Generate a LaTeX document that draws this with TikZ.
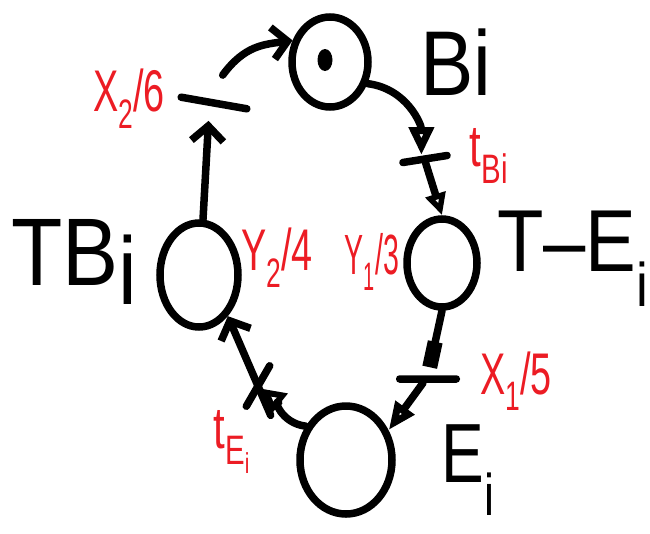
\documentclass[tikz,border=0pt]{standalone}
\usepackage{fontspec}
\setmainfont{Liberation Sans}
\usetikzlibrary{arrows.meta,shapes.geometric}
\definecolor{hred}{RGB}{236,28,36}
\begin{document}
\begin{tikzpicture}[x=1pt,y=-1pt,
  place/.style={draw,ellipse,line width=7.5pt,inner sep=0pt},
  bar/.style={fill=black,rectangle,minimum height=7.5pt,inner sep=0pt,rounded corners=3.5pt},
  arc/.style={line width=7.5pt,line cap=round,line join=round},
  opentip/.style={-{Triangle[open,length=28pt,width=24pt]}},
  barb/.style={-{Straight Barb[length=15pt,width=32pt]}},
  lab/.style={inner sep=0pt,font=\fontsize{80}{80}\selectfont},
  rlab/.style={inner sep=0pt,text=hred,font=\fontsize{42}{42}\selectfont}]
\useasboundingbox (0,0) rectangle (650,533);
% places
\node[place,minimum width=76pt,minimum height=90pt] (Bi) at (330,62) {};
\node[fill,ellipse,minimum width=15pt,minimum height=22pt,inner sep=0pt] (tok) at (325,60) {};
\node[place,minimum width=70pt,minimum height=88pt] (TEi) at (442,263) {};
\node[place,minimum width=92pt,minimum height=108pt] (Ei) at (346,460) {};
\node[place,minimum width=78pt,minimum height=104pt] (TBi) at (199,275) {};
% transitions
\node[bar,minimum width=52pt,rotate=9] (tBi) at (425,159) {};
\node[bar,minimum width=64pt] (x15) at (428,379) {};
\node[bar,minimum width=54pt,rotate=60] (tEi) at (258,386) {};
\node[bar,minimum width=74pt,rotate=-10] (x26) at (214,103) {};
% black labels
\node[lab] (BiL) at (456,62) {\scalebox{1}[1.15]{Bi}};
\node[lab] (TEiL) at (573,259) {\scalebox{0.95}[1.1]{T\textendash E\textsubscript{i}}};
\node[lab] (EiL) at (468,470) {\scalebox{0.8}[1.05]{E\textsubscript{i}}};
\node[lab] (TBiL) at (74,262) {\scalebox{1.05}[1.2]{TB\raisebox{-0.2em}{i}}};
% red labels
\node[rlab] (x26L) at (129,99) {\scalebox{0.9}[1.4]{X\textsubscript{2}/6}};
\node[rlab] (y24L) at (277,258) {\scalebox{0.9}[1.4]{Y\textsubscript{2}/4}};
\node[rlab] (y13L) at (372,262) {\scalebox{0.68}[1.35]{Y\textsubscript{1}/3}};
\node[rlab] (x15L) at (516,381) {\scalebox{0.9}[1.4]{X\textsubscript{1}/5}};
\node[rlab] (tBiL) at (489,156) {\scalebox{1}[1.4]{t\textsubscript{Bi}}};
\node[rlab] (tEiL) at (232,442) {\scalebox{1}[1.4]{t\textsubscript{E\textsubscript{i}}}};
% arcs
\draw[arc,barb] ([xshift=8pt,yshift=24pt]x26.north) .. controls +(22,-30) and +(-28,4) .. (Bi.150);
\draw[arc,opentip] (Bi.-30) .. controls +(40,5) and +(0,-30) .. ([xshift=-3pt]tBi.north);
\draw[arc,-{Triangle[open,length=22pt,width=20pt]}] (tBi.south) -- (TEi.north);
\draw[arc,-{Rectangle[length=26pt,width=15pt]},shorten >=8pt] (TEi.south) -- (x15.north);
\draw[arc,-{Triangle[open,length=28pt,width=22pt]}] ([xshift=-5pt]x15.south) -- (Ei.35);
\draw[arc,-{Triangle[open,length=24pt,width=24pt]}] (Ei.140) .. controls +(-25,-3) and +(15,12) .. (tEi);
\draw[arc,barb,shorten <=-32pt] (tEi.center) -- (TBi.-55);
\draw[arc,barb,shorten >=14pt] ([xshift=4pt]TBi.north) -- ([xshift=-4pt]x26.south);
\end{tikzpicture}
\end{document}
